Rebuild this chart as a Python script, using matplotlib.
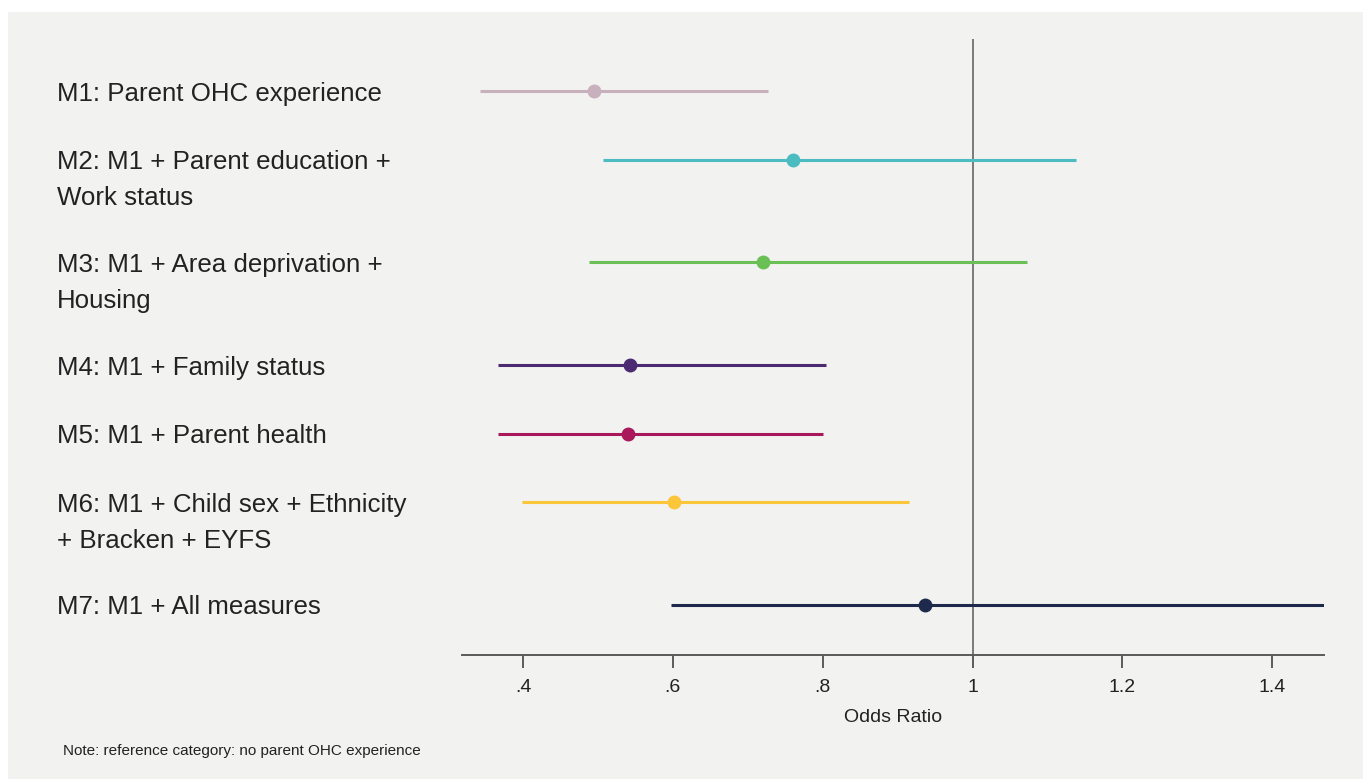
import matplotlib
matplotlib.use("Agg")
import matplotlib.pyplot as plt
import matplotlib.transforms as mtransforms
from matplotlib.patches import Rectangle

plt.rcParams['font.family'] = ['Liberation Sans', 'DejaVu Sans']

# data
labels = [
    "M1: Parent OHC experience",
    "M2: M1 + Parent education +\nWork status",
    "M3: M1 + Area deprivation +\nHousing",
    "M4: M1 + Family status",
    "M5: M1 + Parent health",
    "M6: M1 + Child sex + Ethnicity\n+ Bracken + EYFS",
    "M7: M1 + All measures",
]
odds = [0.495, 0.760, 0.720, 0.543, 0.540, 0.601, 0.936]
ci_lo = [0.343, 0.507, 0.488, 0.367, 0.367, 0.399, 0.597]
ci_hi = [0.727, 1.138, 1.072, 0.804, 0.800, 0.915, 1.52]
colors = ['#c8b0bc', '#4bbcc0', '#6abf55', '#4b2a72', '#a8185a', '#fbc63a', '#1d2a4b']
rows = [0, 1, 2.5, 4, 5, 6, 7.5]
xticks = [0.4, 0.6, 0.8, 1.0, 1.2, 1.4]
xticklabels = ['.4', '.6', '.8', '1', '1.2', '1.4']

fig = plt.figure(figsize=(13.68, 7.81), dpi=100, facecolor='white')
fig.patches.append(Rectangle((8/1368, 2/781), 1355/1368, 767/781,
                             transform=fig.transFigure, facecolor='#f2f2f1',
                             edgecolor='none', zorder=-10))

ax = fig.add_axes([462/1368, 1 - 655/781, 862/1368, 616/781])
ax.set_facecolor('none')
ax.set_zorder(1)

for y, m, lo, hi, c in zip(rows, odds, ci_lo, ci_hi, colors):
    ax.plot([lo, hi], [y, y], color=c, lw=2.2, solid_capstyle='butt', zorder=3)
    ax.plot(m, y, 'o', color=c, ms=9, zorder=4)

ax.axvline(1.0, color='#5a5a5a', lw=1.1, zorder=2)

ax.set_xlim(0.3186, 1.469)
ax.set_ylim(8.23, -0.76)

for s in ['top', 'right', 'left']:
    ax.spines[s].set_visible(False)
ax.spines['bottom'].set_color('#5a5a5a')
ax.spines['bottom'].set_linewidth(1.4)
ax.set_yticks([])
ax.set_xticks(xticks)
ax.set_xticklabels(xticklabels)
ax.tick_params(axis='x', length=9, width=1.1, color='#333333', labelsize=14,
               labelcolor='#222222', pad=8)
ax.set_xlabel("Odds Ratio", fontsize=14, color='#222222', labelpad=10)

# row labels: each line placed on its own, the first one level with the marker
trans = mtransforms.blended_transform_factory(fig.transFigure, ax.transData)
for y, lab in zip(rows, labels):
    for i, part in enumerate(lab.split('\n')):
        t = trans + mtransforms.ScaledTranslation(0, -0.36 * i, fig.dpi_scale_trans)
        ax.text(57/1368, y, part, transform=t, ha='left', va='center_baseline',
                fontsize=18.6, color='#222222', clip_on=False)

fig.text(63/1368, 1 - 751/781, "Note: reference category: no parent OHC experience",
         fontsize=11, color='#222222', va='center', ha='left')

fig.savefig('out.png', dpi=100, facecolor='white')
